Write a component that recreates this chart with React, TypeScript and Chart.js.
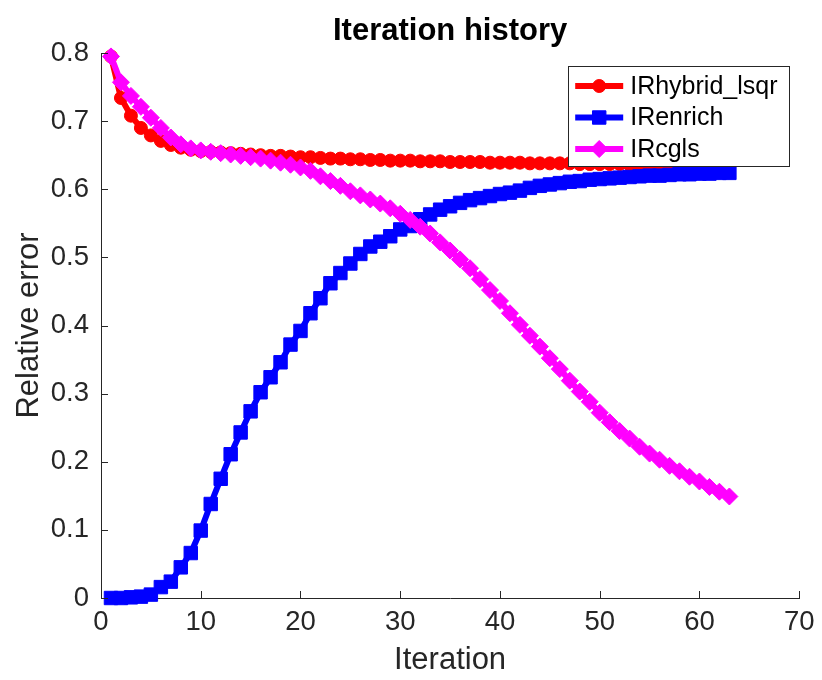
import React, { useEffect, useRef } from "react";
import { Chart, registerables } from "chart.js";

Chart.register(...registerables);

const iterations = [
  1, 2, 3, 4, 5, 6, 7, 8, 9, 10, 11, 12, 13, 14, 15, 16, 17, 18, 19, 20, 21,
  22, 23, 24, 25, 26, 27, 28, 29, 30, 31, 32, 33, 34, 35, 36, 37, 38, 39, 40,
  41, 42, 43, 44, 45, 46, 47, 48, 49, 50, 51, 52, 53, 54, 55, 56, 57, 58, 59,
  60, 61, 62, 63,
];

const hybridLsqr = [
  0.795, 0.734, 0.708, 0.69, 0.679, 0.671, 0.665, 0.661, 0.658, 0.656, 0.655,
  0.654, 0.653, 0.652, 0.651, 0.65, 0.649, 0.649, 0.648, 0.647, 0.647, 0.646,
  0.645, 0.645, 0.644, 0.644, 0.643, 0.643, 0.642, 0.642, 0.642, 0.641, 0.641,
  0.641, 0.64, 0.64, 0.64, 0.64, 0.639, 0.639, 0.639, 0.639, 0.638, 0.638,
  0.638, 0.638, 0.638, 0.637, 0.637, 0.637, 0.637, 0.637, 0.636, 0.636, 0.636,
  0.636, 0.636, 0.636, 0.635, 0.635, 0.635, 0.635, 0.635,
];

const enrich = [
  0.0, 0.0, 0.001, 0.002, 0.005, 0.016, 0.024, 0.045, 0.066, 0.099, 0.138,
  0.175, 0.211, 0.243, 0.274, 0.302, 0.324, 0.346, 0.372, 0.392, 0.418, 0.44,
  0.462, 0.477, 0.491, 0.505, 0.516, 0.523, 0.531, 0.541, 0.546, 0.556, 0.563,
  0.57, 0.575, 0.58, 0.584, 0.587, 0.59, 0.593, 0.595, 0.598, 0.602, 0.605,
  0.607, 0.609, 0.611, 0.612, 0.614, 0.615, 0.616, 0.617, 0.618, 0.619, 0.62,
  0.62, 0.621, 0.622, 0.622, 0.623, 0.623, 0.624, 0.624,
];

const cgls = [
  0.795, 0.757, 0.737, 0.721, 0.705, 0.69, 0.676, 0.666, 0.66, 0.657, 0.655,
  0.653, 0.651, 0.649, 0.647, 0.645, 0.642, 0.639, 0.636, 0.632, 0.627, 0.619,
  0.612, 0.605, 0.597, 0.591, 0.585, 0.579, 0.572, 0.564, 0.555, 0.545, 0.535,
  0.522, 0.51, 0.497, 0.484, 0.468, 0.452, 0.436, 0.418, 0.401, 0.385, 0.369,
  0.352, 0.336, 0.319, 0.303, 0.288, 0.272, 0.258, 0.245, 0.234, 0.222, 0.212,
  0.203, 0.194, 0.186, 0.178, 0.171, 0.163, 0.156, 0.149,
];

const seriesLabels = ["IRhybrid_lsqr", "IRenrich", "IRcgls"];
const xTicks = [0, 10, 20, 30, 40, 50, 60, 70];
const yTicks = [0, 0.1, 0.2, 0.3, 0.4, 0.5, 0.6, 0.7, 0.8];

const AXIS_COLOR = "#262626";
const FONT = "'Liberation Sans', Arial, Helvetica, sans-serif";

const toPoints = (ys: number[]) => iterations.map((x, i) => ({ x, y: ys[i] }));

function drawMarker(ctx: CanvasRenderingContext2D, style: string, r: number, x: number, y: number) {
  ctx.beginPath();
  if (style === "circle") {
    ctx.arc(x, y, r, 0, Math.PI * 2);
  } else if (style === "rect") {
    const s = r * Math.SQRT1_2;
    ctx.rect(x - s, y - s, 2 * s, 2 * s);
  } else {
    ctx.moveTo(x - r, y);
    ctx.lineTo(x, y - r);
    ctx.lineTo(x + r, y);
    ctx.lineTo(x, y + r);
    ctx.closePath();
  }
  ctx.fill();
  ctx.stroke();
}

const inwardTicks = {
  id: "inwardTicks",
  afterDatasetsDraw(chart: any) {
    const { ctx, chartArea, scales } = chart;
    ctx.save();
    ctx.strokeStyle = AXIS_COLOR;
    ctx.lineWidth = 1;
    ctx.beginPath();
    xTicks.forEach((v) => {
      const px = Math.round(scales.x.getPixelForValue(v)) + 0.5;
      ctx.moveTo(px, chartArea.bottom);
      ctx.lineTo(px, chartArea.bottom - 7);
    });
    yTicks.forEach((v) => {
      const py = Math.round(scales.y.getPixelForValue(v)) + 0.5;
      ctx.moveTo(chartArea.left, py);
      ctx.lineTo(chartArea.left + 7, py);
    });
    ctx.stroke();
    ctx.restore();
  },
};

const boxLegend = {
  id: "boxLegend",
  afterDraw(chart: any) {
    const { ctx, chartArea } = chart;
    const w = 221;
    const h = 100;
    const left = chartArea.right - 10 - w;
    const top = chartArea.top + 13;
    ctx.save();
    ctx.fillStyle = "#ffffff";
    ctx.fillRect(left, top, w, h);
    ctx.strokeStyle = AXIS_COLOR;
    ctx.lineWidth = 1;
    ctx.strokeRect(Math.round(left) + 0.5, Math.round(top) + 0.5, w, h);
    chart.data.datasets.forEach((ds: any, i: number) => {
      const cy = top + 20 + i * 31.5;
      ctx.strokeStyle = ds.borderColor;
      ctx.lineWidth = ds.borderWidth;
      ctx.beginPath();
      ctx.moveTo(left + 7, cy);
      ctx.lineTo(left + 55, cy);
      ctx.stroke();
      ctx.fillStyle = ds.backgroundColor;
      ctx.strokeStyle = ds.borderColor;
      ctx.lineWidth = 1;
      drawMarker(ctx, ds.pointStyle, ds.pointRadius, left + 31, cy);
      ctx.fillStyle = "#000000";
      ctx.font = `25px ${FONT}`;
      ctx.textBaseline = "middle";
      ctx.textAlign = "left";
      ctx.fillText(ds.label, left + 62, cy + 1);
    });
    ctx.restore();
  },
};

export default function App() {
  const canvasRef = useRef<HTMLCanvasElement | null>(null);

  useEffect(() => {
    const canvas = canvasRef.current;
    if (!canvas) return;
    const colors = ["#ff0000", "#0000ff", "#ff00ff"];
    const styles = ["circle", "rect", "rectRot"];
    const radii = [6.5, 9.5, 8.5];
    const data = [hybridLsqr, enrich, cgls];
    const chart = new Chart(canvas, {
      type: "line",
      data: {
        datasets: data.map((ys, i) => ({
          label: seriesLabels[i],
          data: toPoints(ys),
          borderColor: colors[i],
          backgroundColor: colors[i],
          borderWidth: 6,
          pointStyle: styles[i] as any,
          pointRadius: radii[i],
          pointBorderWidth: 1,
          pointBorderColor: colors[i],
          pointBackgroundColor: colors[i],
          tension: 0,
          clip: false as any,
          order: 3 - i,
        })),
      },
      options: {
        responsive: false,
        animation: false,
        devicePixelRatio: 1,
        layout: { padding: { left: 0, right: 20.5, top: 0, bottom: 0 } },
        plugins: {
          legend: { display: false },
          tooltip: { enabled: false },
          title: {
            display: true,
            text: "Iteration history",
            fullSize: false,
            color: "#000000",
            font: { family: FONT, size: 31, weight: "bold", lineHeight: 1.2 },
            padding: { top: 12.4, bottom: 3.4 },
          },
        },
        scales: {
          x: {
            type: "linear",
            min: 0,
            max: 70,
            afterFit: (s: any) => {
              s.height = 82;
            },
            afterBuildTicks: (s: any) => {
              s.ticks = xTicks.map((v) => ({ value: v }));
            },
            ticks: {
              color: AXIS_COLOR,
              font: { family: FONT, size: 27.5, lineHeight: 1.2 },
              padding: 7.5,
              maxRotation: 0,
              callback: (v: any) => String(v),
            },
            grid: { display: true, drawOnChartArea: false, drawTicks: false },
            border: { display: true, color: AXIS_COLOR, width: 1 },
            title: {
              display: true,
              text: "Iteration",
              color: AXIS_COLOR,
              font: { family: FONT, size: 31, lineHeight: 1.2 },
              padding: { top: 0, bottom: 0.5 },
            },
          },
          y: {
            type: "linear",
            min: 0,
            max: 0.8,
            afterFit: (s: any) => {
              s.width = 101;
            },
            afterBuildTicks: (s: any) => {
              s.ticks = yTicks.map((v) => ({ value: v }));
            },
            ticks: {
              color: AXIS_COLOR,
              font: { family: FONT, size: 27.5, lineHeight: 1.2 },
              padding: 12,
              callback: (v: any) => String(Math.round(Number(v) * 10) / 10),
            },
            grid: { display: true, drawOnChartArea: false, drawTicks: false },
            border: { display: true, color: AXIS_COLOR, width: 1 },
            title: {
              display: true,
              text: "Relative error",
              color: AXIS_COLOR,
              font: { family: FONT, size: 31, lineHeight: 1.2 },
              padding: { top: 10.4, bottom: 0 },
            },
          },
        },
      },
      plugins: [inwardTicks, boxLegend],
    });
    return () => chart.destroy();
  }, []);

  return (
    <div style={{ position: "fixed", left: 0, top: 0, width: 822, height: 680, background: "#ffffff" }}>
      <canvas ref={canvasRef} width={822} height={680} style={{ display: "block" }} />
    </div>
  );
}
